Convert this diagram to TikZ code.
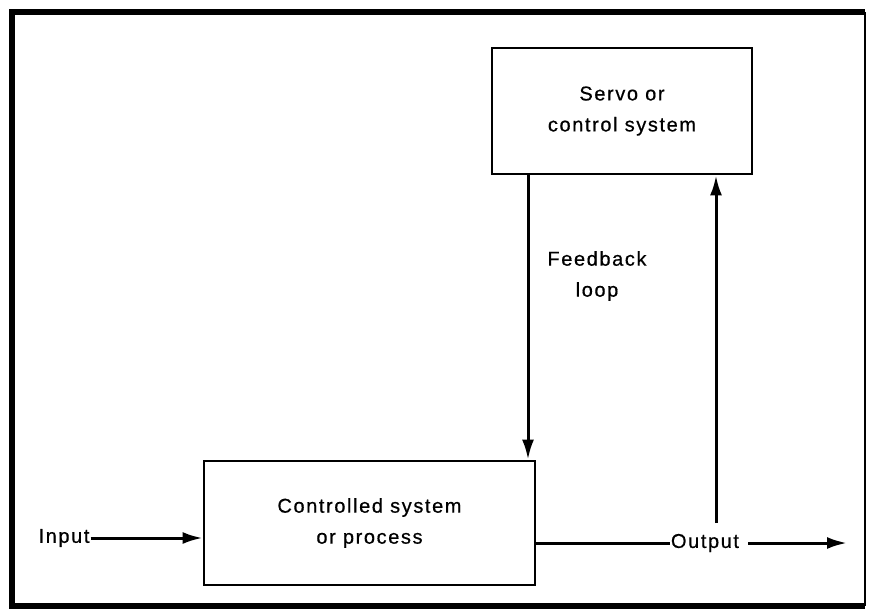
\documentclass[tikz,border=0pt]{standalone}
\usepackage{fontspec}
\setmainfont{Liberation Sans}[LetterSpace=8, FakeBold=0.6]
\usetikzlibrary{arrows.meta}
\begin{document}
\begin{tikzpicture}[x=1pt,y=-1pt,
  every node/.style={font=\fontsize{20}{31}\selectfont, inner sep=1pt},
  block/.style={draw, line width=2.8pt, minimum width=#1, align=center},
  flow/.style={line width=3pt, -{Latex[length=20pt,width=12pt]}},
  plain/.style={line width=3pt}]
  \useasboundingbox (0,0) rectangle (873,613);
  % outer frame
  \draw[line width=6pt] (865,12) -- (12,12) -- (12,606) -- (865,606);
  \draw[line width=2pt] (865,12) -- (865,606);

  % blocks
  \node[block=260pt, minimum height=126pt] (servo) at (622,111) {Servo or\\control system};
  \node[block=331pt, minimum height=124pt] (ctrl) at (369.5,523) {Controlled system\\or process};

  % labels
  \node (in) at (64,538) {Input};
  \node (out) at (705,543) {Output};
  \node[align=center] (fb) at (597,276) {Feedback\\loop};

  \coordinate (tap) at (716,523);
  \coordinate (end) at (847,543);

  % connectors
  \draw[flow] (in.east) -- (ctrl.west |- in.east);
  \draw[flow] (servo.south -| 528,0) -- (ctrl.north -| 528,0);
  \draw[plain] (ctrl.east |- out.west) -- (out.west);
  \draw[flow] (out.east) ++(8,0) -- (end);
  \draw[flow] (tap) -- (servo.south -| tap);
\end{tikzpicture}
\end{document}
